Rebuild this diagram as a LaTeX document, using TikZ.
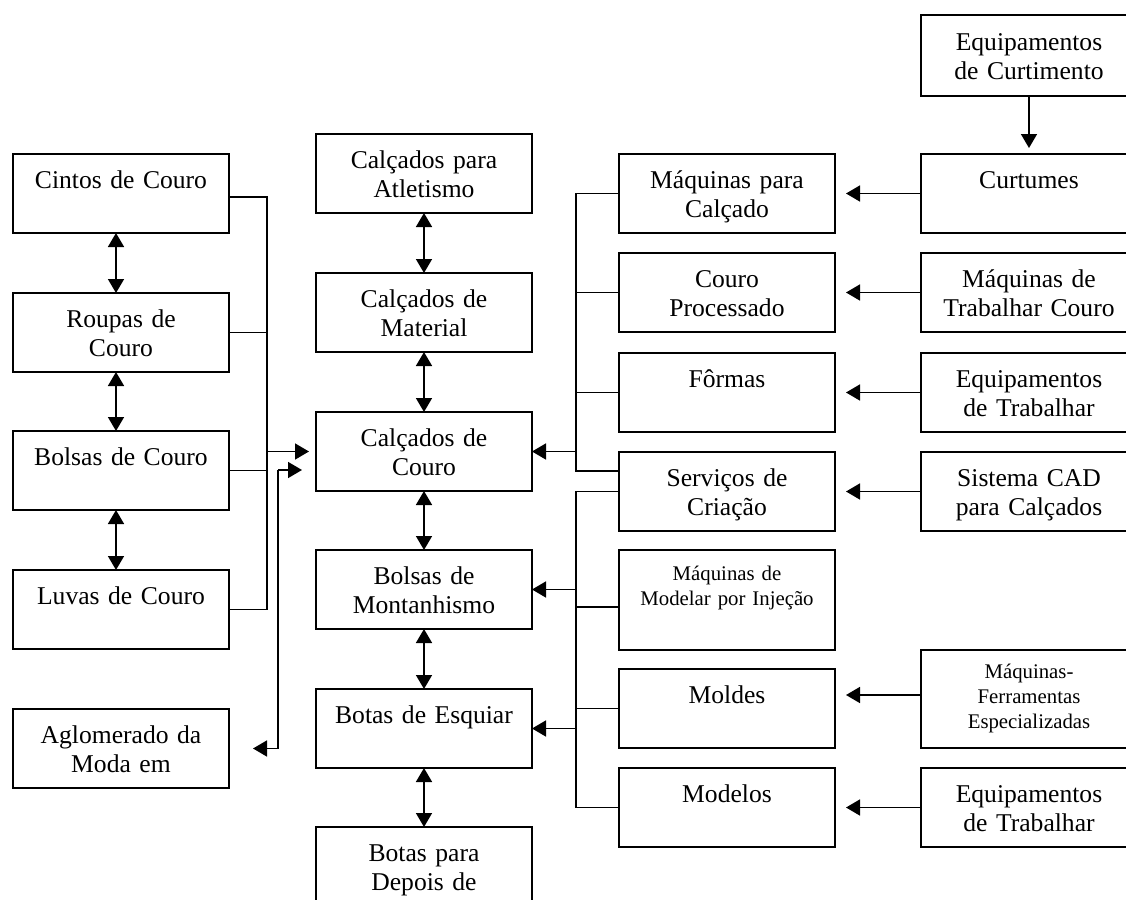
\documentclass[tikz,border=0pt]{standalone}
\usepackage{fontspec}
\setmainfont{Liberation Serif}
\usetikzlibrary{arrows.meta, calc}

\begin{document}
\begin{tikzpicture}[x=0.5pt, y=-0.5pt, line width=0.8pt,
  box/.style={draw, inner sep=0pt, outer sep=0pt, text width=108pt, align=center, anchor=north west, text height=17pt, text depth=22.5pt, font=\fontsize{12.8}{14.5}\selectfont},
  smallbox/.style={box, font=\fontsize{10.4}{12.5}\selectfont},
  arr/.style={-{Triangle[length=7pt,width=8pt]}},
  dbl/.style={{Triangle[length=7pt,width=8pt]}-{Triangle[length=7pt,width=8pt]}}]
  \path[use as bounding box, clip] (0,0) rectangle (1126,900);

  % leather goods
  \node[box] (cintos) at (13,154) {Cintos de Couro};
  \node[box] (roupas) at (13,293) {Roupas de\\Couro};
  \node[box] (bolsas) at (13,431) {Bolsas de Couro};
  \node[box] (luvas) at (13,570) {Luvas de Couro};
  \node[box] (aglomerado) at (13,709) {Aglomerado da\\Moda em};

  % footwear
  \node[box] (atletismo) at (316,134) {Calçados para\\Atletismo};
  \node[box] (material) at (316,273) {Calçados de\\Material};
  \node[box] (couro) at (316,412) {Calçados de\\Couro};
  \node[box] (montanhismo) at (316,550) {Bolsas de\\Montanhismo};
  \node[box] (esquiar) at (316,689) {Botas de Esquiar};
  \node[box] (depois) at (316,827) {Botas para\\Depois de};

  % suppliers
  \node[box] (maqcalcado) at (619,154) {Máquinas para\\Calçado};
  \node[box] (processado) at (619,253) {Couro\\Processado};
  \node[box] (formas) at (619,353) {Fôrmas};
  \node[box] (criacao) at (619,452) {Serviços de\\Criação};
  \node[smallbox, text height=15pt, text depth=35pt] (injecao) at (619,550) {Máquinas de\\Modelar por Injeção};
  \node[box] (moldes) at (619,669) {Moldes};
  \node[box] (modelos) at (619,768) {Modelos};

  % second tier
  \node[box, text height=17.5pt, text depth=23pt] (curtimento) at (921,15) {Equipamentos\\de Curtimento};
  \node[box] (curtumes) at (921,154) {Curtumes};
  \node[box] (maqtrab) at (921,253) {Máquinas de\\Trabalhar Couro};
  \node[box] (equiptrab) at (921,353) {Equipamentos\\de Trabalhar};
  \node[box] (cad) at (921,452) {Sistema CAD\\para Calçados};
  \node[smallbox, text height=14pt, text depth=35pt] (ferramentas) at (921,650) {Máquinas-\\Ferramentas\\Especializadas};
  \node[box] (equiptrabb) at (921,768) {Equipamentos\\de Trabalhar};

  % left bus
  \coordinate (lbus) at (267,0);
  \draw ([yshift=-1.75pt]cintos.east) -| (lbus |- luvas.east) -- (luvas.east);
  \draw (roupas.east) -- (lbus |- roupas.east);
  \draw (bolsas.east) -- (lbus |- bolsas.east);
  \draw[arr, shorten >=3.5pt] (lbus |- couro.west) -- (couro.west);
  \coordinate (ltop) at (278,470);
  \draw[arr, shorten >=7pt] (ltop) -- (couro.west |- ltop);
  \draw[arr, shorten >=12pt] (ltop) -- (ltop |- aglomerado.east) -- (aglomerado.east);

  \draw[dbl] ([xshift=-2.5pt]cintos.south) -- ([xshift=-2.5pt]roupas.north);
  \draw[dbl] ([xshift=-2.5pt]roupas.south) -- ([xshift=-2.5pt]bolsas.north);
  \draw[dbl] ([xshift=-2.5pt]bolsas.south) -- ([xshift=-2.5pt]luvas.north);

  \draw[dbl] (atletismo.south) -- (material.north);
  \draw[dbl] (material.south) -- (couro.north);
  \draw[dbl] (couro.south) -- (montanhismo.north);
  \draw[dbl] (montanhismo.south) -- (esquiar.north);
  \draw[dbl] (esquiar.south) -- (depois.north);

  % right buses
  \coordinate (rbus) at (576,0);
  \coordinate (rtop) at (576,471);
  \draw (maqcalcado.west) -| (rtop) -- (rtop -| criacao.west);
  \draw (processado.west) -- (rbus |- processado.west);
  \draw (formas.west) -- (rbus |- formas.west);
  \draw[arr] (rbus |- couro.east) -- (couro.east);
  \draw (criacao.west) -| (rbus |- modelos.west) -- (modelos.west);
  \draw ([yshift=-3.5pt]injecao.west) -- ++(-43,0);
  \draw (moldes.west) -- (rbus |- moldes.west);
  \draw[arr] (rbus |- montanhismo.east) -- (montanhismo.east);
  \draw[arr] (rbus |- esquiar.east) -- (esquiar.east);

  \draw[arr, shorten >=3pt] (curtimento.south) -- (curtumes.north);
  \draw[arr, shorten >=5.5pt] (curtumes.west) -- (maqcalcado.east |- curtumes.west);
  \draw[arr, shorten >=5.5pt] (maqtrab.west) -- (processado.east |- maqtrab.west);
  \draw[arr, shorten >=5.5pt] (equiptrab.west) -- (formas.east |- equiptrab.west);
  \draw[arr, shorten >=5.5pt] (cad.west) -- (criacao.east |- cad.west);
  \draw[arr, shorten >=5.5pt] ([yshift=2pt]ferramentas.west) -- ([yshift=2pt]moldes.east |- ferramentas.west);
  \draw[arr, shorten >=5.5pt] (equiptrabb.west) -- (modelos.east |- equiptrabb.west);
\end{tikzpicture}
\end{document}
